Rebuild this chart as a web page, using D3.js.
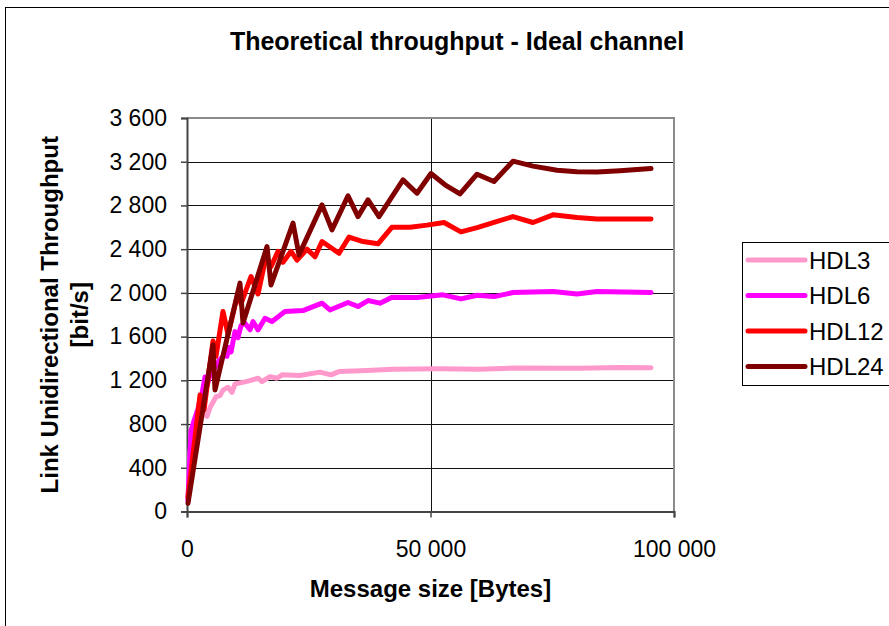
<!DOCTYPE html>
<html>
<head>
<meta charset="utf-8">
<script src="https://cdn.jsdelivr.net/npm/d3@7"></script>
<style>
  html, body { margin: 0; padding: 0; background: #fff; }
  svg text { font-family: "Liberation Sans", Arial, sans-serif; fill: #000; }
</style>
</head>
<body>
<svg id="chart" width="889" height="626"></svg>
<script>
// ---------- data ----------
const chartTitle = "Theoretical throughput - Ideal channel";
const xTitle = "Message size [Bytes]";
const yTitleLines = ["Link Unidirectional Throughput", "[bit/s]"];
const seriesNames = ["HDL3", "HDL6", "HDL12", "HDL24"];
const seriesColors = ["#FF99CC", "#FF00FF", "#FF0000", "#800000"];
const xTicks = [0, 50000, 100000];
const yTicks = [0, 400, 800, 1200, 1600, 2000, 2400, 2800, 3200, 3600];

// [message size in bytes, throughput]
const hdl3 = [[200,110],[620,550],[1230,700],[2050,790],[2870,860],[3490,900],[4110,870],[4720,950],[5340,1000],[5950,1050],[6780,1060],[7390,1110],[8420,1137],[9240,1090],[9860,1167],[12320,1190],[14580,1219],[15400,1188],[17040,1234],[18480,1219],[19510,1250],[23200,1245],[27310,1275],[29570,1250],[31210,1280],[36960,1289],[42090,1302],[51950,1305],[60160,1302],[66940,1312],[80700,1310],[88910,1318],[95280,1315]];
const hdl6 = [[200,100],[820,740],[1440,830],[2260,940],[3080,1080],[3700,1230],[4110,1150],[4720,1250],[5540,1300],[6570,1380],[7600,1430],[8210,1420],[8620,1500],[9030,1460],[9860,1646],[10470,1590],[11090,1700],[11910,1723],[12940,1662],[13550,1738],[14580,1662],[16020,1768],[17450,1738],[20120,1829],[23820,1838],[27720,1906],[29360,1844],[33060,1912],[35110,1875],[37170,1930],[39630,1906],[42090,1961],[47230,1958],[52570,1982],[56260,1945],[59550,1978],[63040,1966],[66940,2003],[75150,2012],[80080,1990],[84190,2012],[95280,2003]];
const hdl12 = [[200,130],[2670,1066],[3490,930],[5340,1560],[5950,1420],[7390,1830],[8420,1620],[10470,2000],[11090,1900],[13140,2150],[14580,1990],[16220,2330],[17250,2240],[18690,2380],[19710,2280],[21360,2380],[22590,2300],[24640,2400],[26280,2330],[27720,2470],[31210,2363],[33270,2510],[36140,2470],[39220,2449],[42090,2601],[45790,2601],[49280,2620],[52770,2644],[56260,2558],[59750,2600],[63040,2645],[66940,2698],[71050,2644],[75150,2714],[80080,2690],[84190,2677],[89530,2675],[95280,2677]];
const hdl24 = [[200,75],[5340,1524],[5750,1112],[10880,2089],[11500,1725],[16430,2424],[17250,2073],[21770,2638],[23000,2348],[27720,2805],[29770,2577],[33060,2888],[35110,2698],[37170,2851],[39430,2698],[44350,3034],[47230,2912],[50100,3092],[52980,2989],[56060,2906],[59550,3086],[63040,3019],[66940,3205],[71050,3160],[75980,3122],[80080,3108],[84190,3105],[88910,3117],[95280,3138]];
const seriesData = [hdl3, hdl6, hdl12, hdl24];

// ---------- drawing ----------
const svg = d3.select("#chart");
const plot = { left: 187, right: 674, top: 118, bottom: 511.5 };

const x = d3.scaleLinear().domain([0, 100000]).range([plot.left, plot.right]);
const y = d3.scaleLinear().domain([0, 3600]).range([plot.bottom, plot.top]);

const loc = d3.formatLocale({ decimal: ".", thousands: " ", grouping: [3], currency: ["", ""] });
const fmt = loc.format(",");

// outer chart frame
svg.append("rect")
  .attr("x", 5.5).attr("y", 7.5).attr("width", 920).attr("height", 700)
  .attr("fill", "#fff").attr("stroke", "#000").attr("stroke-width", 1);

// title
svg.append("text")
  .attr("x", 457).attr("y", 50)
  .attr("text-anchor", "middle")
  .attr("font-size", 25).attr("font-weight", "bold")
  .text(chartTitle);

// horizontal gridlines
svg.append("g").selectAll("line")
  .data(yTicks.filter(d => d > 0 && d < 3600))
  .join("line")
  .attr("x1", plot.left).attr("x2", plot.right)
  .attr("y1", d => Math.round(y(d)) + 0.5).attr("y2", d => Math.round(y(d)) + 0.5)
  .attr("stroke", "#111").attr("stroke-width", 1);

// vertical gridline(s)
svg.append("g").selectAll("line")
  .data(xTicks.filter(d => d > 0 && d < 100000))
  .join("line")
  .attr("y1", plot.top).attr("y2", plot.bottom)
  .attr("x1", d => Math.round(x(d)) + 0.5).attr("x2", d => Math.round(x(d)) + 0.5)
  .attr("stroke", "#111").attr("stroke-width", 1);

// plot-area border (top and right, grey)
svg.append("path")
  .attr("d", `M${plot.left},${plot.top} H${plot.right} V${plot.bottom}`)
  .attr("fill", "none").attr("stroke", "#8c8c8c").attr("stroke-width", 2);

// axes
const yAxis = d3.axisLeft(y).tickValues(yTicks).tickFormat(fmt).tickSize(6).tickPadding(14);
const gy = svg.append("g").attr("transform", `translate(${plot.left},0)`).call(yAxis);
const xAxis = d3.axisBottom(x).tickValues(xTicks).tickFormat(fmt).tickSize(6).tickPadding(23);
const gx = svg.append("g").attr("transform", `translate(0,${plot.bottom})`).call(xAxis);
[gx, gy].forEach(g => {
  g.select(".domain").attr("stroke", "#444").attr("stroke-width", 2);
  g.selectAll(".tick line").attr("stroke", "#444").attr("stroke-width", 1.5);
  g.selectAll(".tick text").attr("font-size", 23).attr("font-family", "Liberation Sans, Arial, sans-serif").attr("fill", "#000");
});

// axis titles
svg.append("text")
  .attr("x", (plot.left + plot.right) / 2).attr("y", 597)
  .attr("text-anchor", "middle")
  .attr("font-size", 24).attr("font-weight", "bold")
  .text(xTitle);

const yt = svg.append("text")
  .attr("transform", `translate(58,${(plot.top + plot.bottom) / 2}) rotate(-90)`)
  .attr("text-anchor", "middle")
  .attr("font-size", 24).attr("font-weight", "bold");
yTitleLines.forEach((t, i) => {
  yt.append("tspan").attr("x", 0).attr("y", i * 30).text(t);
});

// series lines
const line = d3.line().x(d => x(d[0])).y(d => y(d[1]));
svg.append("g").selectAll("path")
  .data(seriesData)
  .join("path")
  .attr("d", line)
  .attr("fill", "none")
  .attr("stroke", (d, i) => seriesColors[i])
  .attr("stroke-width", 5)
  .attr("stroke-linejoin", "round")
  .attr("stroke-linecap", "round");

// legend
const lg = svg.append("g");
lg.append("rect")
  .attr("x", 742.5).attr("y", 242.5).attr("width", 200).attr("height", 143)
  .attr("fill", "#fff").attr("stroke", "#000").attr("stroke-width", 1);
const legendY = d3.scalePoint().domain(seriesNames).range([260, 366.5]);
const items = lg.selectAll("g.item").data(seriesNames).join("g").attr("class", "item");
items.append("line")
  .attr("x1", 748).attr("x2", 805)
  .attr("y1", d => legendY(d)).attr("y2", d => legendY(d))
  .attr("stroke", (d, i) => seriesColors[i])
  .attr("stroke-width", 5).attr("stroke-linecap", "round");
items.append("text")
  .attr("x", 809).attr("y", d => legendY(d))
  .attr("dy", "0.36em")
  .attr("font-size", 24)
  .text(d => d);
</script>
</body>
</html>
